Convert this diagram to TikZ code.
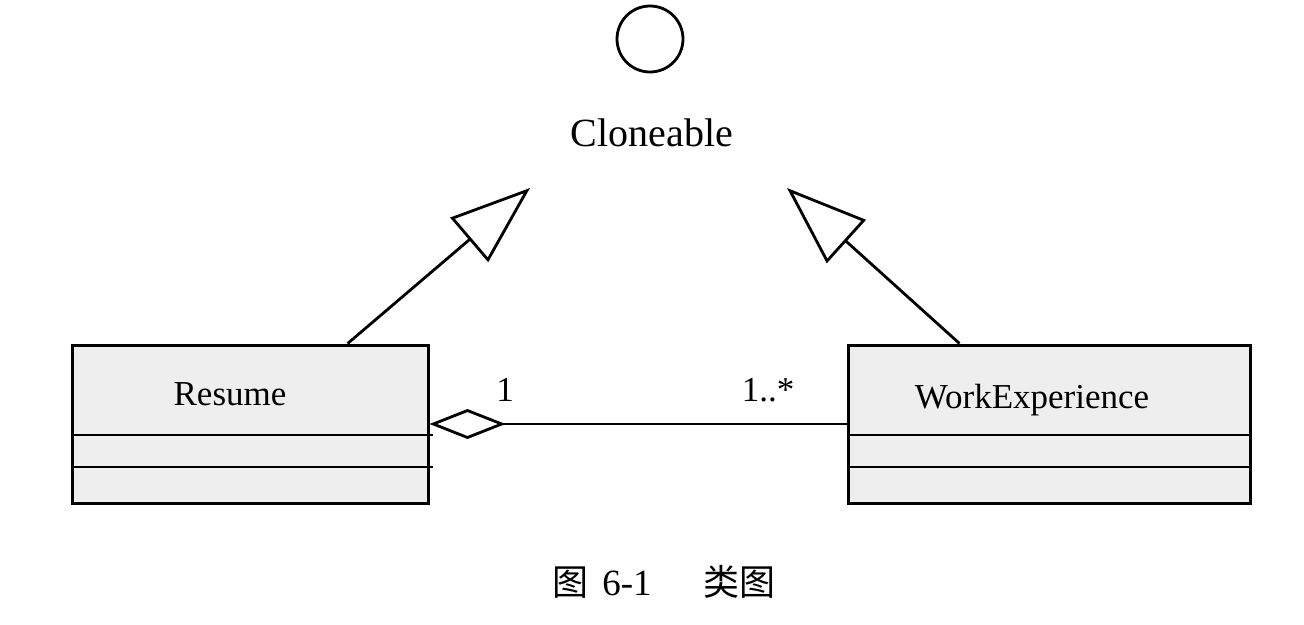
\documentclass[tikz,border=0pt]{standalone}
\usepackage{fontspec}
\setmainfont{Liberation Serif}
\newfontfamily\cjk{Noto Sans CJK SC}
\usetikzlibrary{arrows.meta,calc}
\begin{document}
\begin{tikzpicture}[x=1pt,y=-1pt,
  classbox/.style={draw=black,line width=3pt,fill=gray!13,rectangle,minimum height=158pt,inner sep=0pt},
  conn/.style={line width=2.8pt,draw=black},
  gen/.style={conn,-{Triangle[open,length=80pt,width=58pt,line width=2.8pt]}},
  lbl/.style={font=\fontsize{35}{40}\selectfont,inner sep=0pt}]
\useasboundingbox (0,0) rectangle (1304,624);
\node[circle,draw=black,line width=2.8pt,minimum size=66pt,inner sep=0pt] (ifc) at (650,39) {};
\node[inner sep=0pt,font=\fontsize{40}{44}\selectfont] (clon) at (652,133) {Cloneable};
\node[classbox,minimum width=356pt] (res) at (250,424) {};
\node[classbox,minimum width=402pt] (we) at (1049,424) {};
\node[inner sep=0pt,font=\fontsize{35}{40}\selectfont] (resn) at (230,394) {Resume};
\node[inner sep=0pt,font=\fontsize{35}{40}\selectfont] (wen) at (1032,400) {WorkExperience};
\draw[line width=2.8pt] (72,435) -- (433,435);
\draw[line width=2.8pt] (72,467) -- (433,467);
\draw[line width=2.8pt] (848,435) -- (1252,435);
\draw[line width=2.8pt] (848,467) -- (1252,467);
\coordinate (t1) at (530,188);
\coordinate (t2) at (787,188);
\draw[gen] ($(res.north west)!0.772!(res.north east)$) -- (t1);
\draw[gen] ($(we.north west)!0.279!(we.north east)$) -- (t2);
\draw[conn,{Diamond[open,length=76pt,width=30pt,line width=2.8pt]}-] (res.east) -- (we.west);
\node[lbl] (m1) at (505,390) {1};
\node[lbl] (m2) at (768,390) {1..*};
\node[inner sep=0pt,font=\fontsize{37}{40}\selectfont] (cap) at (664,582) {{\cjk\fontsize{36}{40}\selectfont 图}\hspace{14pt}6-1\hspace{52pt}{\cjk\fontsize{36}{40}\selectfont 类图}};
\end{tikzpicture}
\end{document}
